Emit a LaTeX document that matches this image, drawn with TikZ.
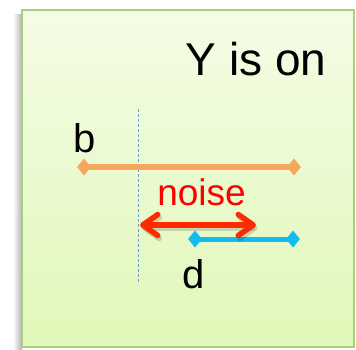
\documentclass[tikz,border=0pt]{standalone}
\usepackage{fontspec}
\setmainfont{Liberation Sans}
\usetikzlibrary{arrows.meta,shapes.geometric}
\definecolor{panelTop}{HTML}{F4FCE6}
\definecolor{panelBot}{HTML}{E0F8B8}
\definecolor{panelEdge}{HTML}{A9CF7A}
\definecolor{bOrange}{HTML}{F5A75C}
\definecolor{dBlue}{HTML}{12BDEE}
\definecolor{noiseRed}{HTML}{FF2A00}
\definecolor{guideBlue}{HTML}{6C9CD2}
\tikzset{
  label text/.style={font=\fontsize{40}{40}\selectfont, text=black, inner sep=0pt, anchor=base},
  endmark/.style={diamond, inner sep=0pt, minimum width=14pt, minimum height=17pt},
  noisearrow/.style={line width=5.5pt, line cap=round, draw=noiseRed,
    {Straight Barb[length=15pt,width=21pt,line cap=round,line join=round]}-{Straight Barb[length=15pt,width=21pt,line cap=round,line join=round]}},
  guide/.style={draw=guideBlue, line width=0.8pt, dash pattern=on 3pt off 2pt}
}
\begin{document}
\begin{tikzpicture}[x=1pt,y=-1pt]
  \useasboundingbox (0,0) rectangle (356,349);
  \fill[white] (0,0) rectangle (356,349);
  % soft shadow on the left of the panel
  \shade[left color=white, right color=black!30] (13,14) rectangle (22,349);
  % panel
  \shade[top color=panelTop, bottom color=panelBot] (22,10) rectangle (354,347);
  \draw[panelEdge, line width=2pt] (22,10) rectangle (354,347);

  % title
  \node[label text, font=\fontsize{46}{46}\selectfont] (title) at (256,75) {Y is on};

  % guide line
  \coordinate (g1) at (138,109);
  \coordinate (g2) at (138,284);
  \draw[guide] (g1) -- (g2);

  % interval b
  \node[endmark, fill=bOrange] (b1) at (84,167) {};
  \node[endmark, fill=bOrange] (b2) at (294,167) {};
  \draw[bOrange, line width=6pt] (b1.center) -- (b2.center);
  \node[label text] (blabel) at (85,152) {b};

  % interval d
  \node[endmark, fill=dBlue] (d1) at (195,239) {};
  \node[endmark, fill=dBlue] (d2) at (293,239) {};
  \draw[dBlue, line width=5pt] (d1.center) -- (d2.center);
  \node[label text] (dlabel) at (194,288) {d};

  % noise arrow with its shadow
  \coordinate (n1) at (140,225);
  \coordinate (n2) at (256,225);
  \draw[noisearrow, draw=black, opacity=0.15, transform canvas={shift={(1.5pt,-3pt)}}] (n1) -- (n2);
  \draw[noisearrow] (n1) -- (n2);
  \node[label text, text=red, font=\fontsize{37}{37}\selectfont] (noise) at (201.5,205) {noise};
\end{tikzpicture}
\end{document}
